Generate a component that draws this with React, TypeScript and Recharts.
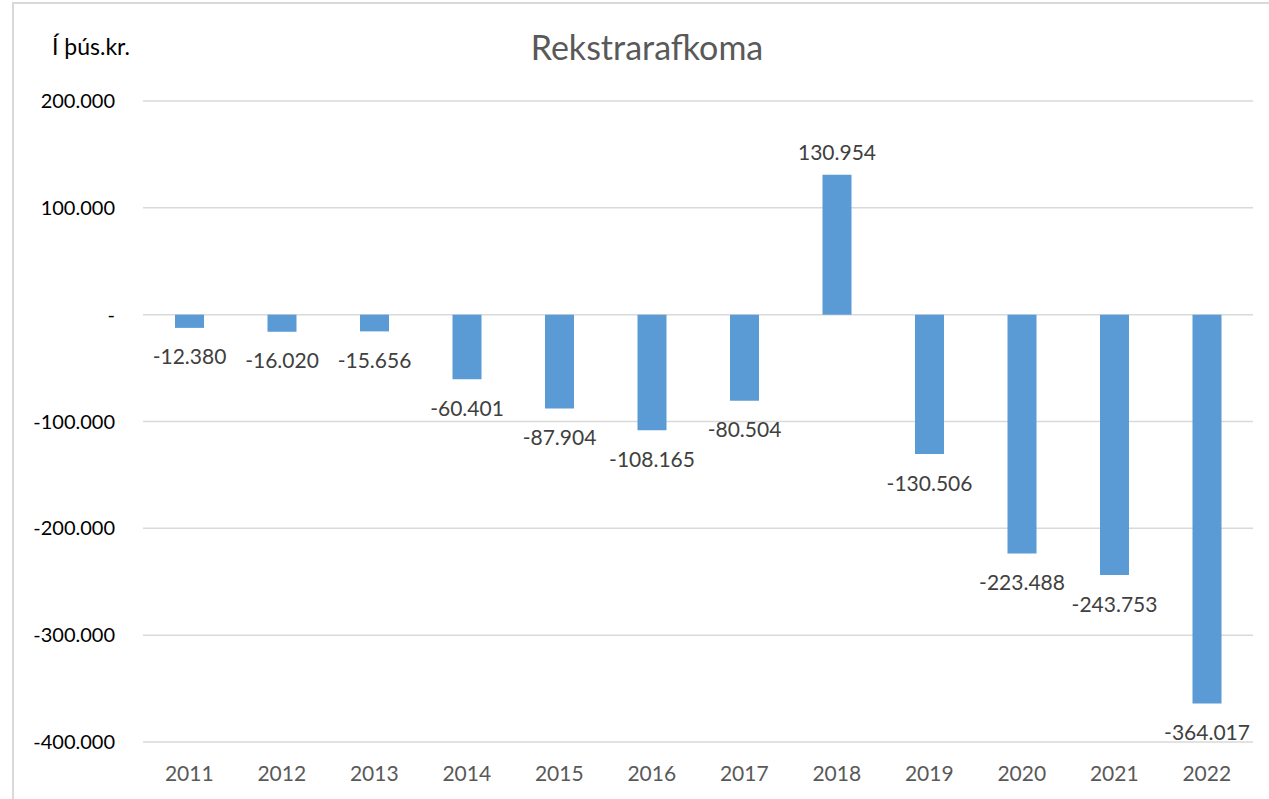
import React from 'react';
import { BarChart, Bar, XAxis, YAxis, CartesianGrid, LabelList } from 'recharts';

const years = ['2011','2012','2013','2014','2015','2016','2017','2018','2019','2020','2021','2022'];
const values = [-12380, -16020, -15656, -60401, -87904, -108165, -80504, 130954, -130506, -223488, -243753, -364017];
const yTicks = [200000, 100000, 0, -100000, -200000, -300000, -400000];

const data = years.map((y, i) => ({ year: y, value: values[i] }));

const FONT = 'Lato, "Open Sans", sans-serif';

const fmt = (v: number): string => {
  if (v === 0) return '-';
  const s = Math.abs(v).toString().replace(/\B(?=(\d{3})+(?!\d))/g, '.');
  return (v < 0 ? '-' : '') + s;
};

const renderLabel = (props: any) => {
  const { x, y, width, height, value } = props;
  const cx = x + width / 2;
  const neg = value < 0;
  const end = neg ? Math.max(y, y + height) : Math.min(y, y + height);
  const ty = neg ? end + 28 : end - 23;
  return (
    <text x={cx} y={ty} textAnchor="middle" dominantBaseline="central" fill="#404040" fontSize={21} fontFamily={FONT}>
      {fmt(value)}
    </text>
  );
};

export default function App() {
  return (
    <div style={{ position: 'absolute', left: 0, top: 0, width: 1269, height: 799, overflow: 'hidden', background: '#fff' }}>
      <div style={{ position: 'absolute', left: 12, top: 2, width: 1300, height: 850, border: '2px solid #d9d9d9', boxSizing: 'border-box' }} />
      <div style={{ position: 'absolute', left: 0, top: 26, width: 1294, textAlign: 'center', fontFamily: FONT, fontSize: 34, color: '#595959', lineHeight: '42px' }}>
        Rekstrarafkoma
      </div>
      <div style={{ position: 'absolute', left: 52, top: 32, fontFamily: FONT, fontSize: 23, color: '#000', lineHeight: '28px' }}>
        Í þús.kr.
      </div>
      <div style={{ position: 'absolute', left: 12, top: 2 }}>
        <BarChart width={1255} height={797} data={data} margin={{ top: 99, right: 14, bottom: 0, left: 0 }} barCategoryGap={0}>
          <CartesianGrid vertical={false} stroke="#d9d9d9" strokeWidth={1.5} />
          <XAxis dataKey="year" axisLine={false} tickLine={false} height={57} tickSize={0} tickMargin={24}
            tick={{ fill: '#595959', fontSize: 21, fontFamily: FONT }} interval={0} />
          <YAxis domain={[-400000, 200000]} ticks={yTicks} axisLine={false} tickLine={false} width={131}
            tickSize={0} tickMargin={28} tickFormatter={fmt} interval={0}
            tick={{ fill: '#000', fontSize: 20, fontFamily: FONT }} />
          <Bar dataKey="value" fill="#5b9bd5" barSize={29} isAnimationActive={false}>
            <LabelList dataKey="value" content={renderLabel} />
          </Bar>
        </BarChart>
      </div>
    </div>
  );
}
